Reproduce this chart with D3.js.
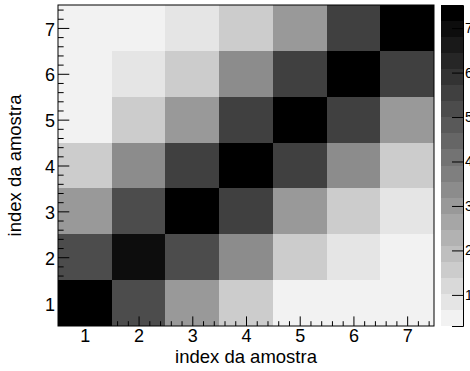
<!DOCTYPE html>
<html lang="en">
<head>
  <meta charset="UTF-8">
  <title>index da amostra</title>
  <script src="https://d3js.org/d3.v7.min.js"></script>
  <style>
    body { margin: 0; background: #fff; }
    text { font-family: "Liberation Sans", Arial, sans-serif; fill: #000; }
  </style>
</head>
<body>
  <svg id="chart" width="470" height="371"></svg>

  <script>
    // sample indices on both axes
    const xIndex = [1, 2, 3, 4, 5, 6, 7];
    const yIndex = [1, 2, 3, 4, 5, 6, 7];

    // matrix values, one row per y index (bottom row first)
    const row1 = [7.50, 5.20, 3.00, 1.55, 0.45, 0.45, 0.45];
    const row2 = [5.20, 7.00, 5.20, 3.40, 1.55, 0.85, 0.45];
    const row3 = [3.00, 5.20, 7.50, 5.50, 3.00, 1.55, 0.85];
    const row4 = [1.55, 3.40, 5.50, 7.50, 5.50, 3.40, 1.55];
    const row5 = [0.45, 1.55, 3.00, 5.50, 7.50, 5.50, 3.00];
    const row6 = [0.45, 0.85, 1.55, 3.40, 5.50, 7.50, 5.50];
    const row7 = [0.45, 0.45, 0.85, 1.55, 3.00, 5.50, 7.50];
    const rows = [row1, row2, row3, row4, row5, row6, row7];

    // colour axis
    const zRange = [0.3, 7.52];
    const zTicks = [1, 2, 3, 4, 5, 6, 7];
    const nLevels = 20;

    const titleX = 'index da amostra';
    const titleY = 'index da amostra';

    const svg = d3.select('#chart');

    const padL = 58, padR = 434, padT = 5, padB = 326;

    const x = d3.scaleLinear().domain([0.5, 7.5]).range([padL, padR]);
    const y = d3.scaleLinear().domain([0.5, 7.5]).range([padB, padT]);

    // grey palette, light to black
    const palette = d3.range(nLevels).map(k => {
      const g = Math.round(242 * (1 - k / (nLevels - 1)));
      return d3.rgb(g, g, g).toString();
    });
    const color = d3.scaleQuantize().domain(zRange).range(palette);

    // cells
    const cells = [];
    rows.forEach((r, j) => r.forEach((v, i) => cells.push({ xi: xIndex[i], yi: yIndex[j], v: v })));

    svg.append('g').selectAll('rect')
      .data(cells)
      .enter().append('rect')
      .attr('x', d => x(d.xi - 0.5))
      .attr('y', d => y(d.yi + 0.5))
      .attr('width', d => x(d.xi + 0.5) - x(d.xi - 0.5))
      .attr('height', d => y(d.yi - 0.5) - y(d.yi + 0.5))
      .attr('fill', d => color(Math.min(d.v, zRange[1] - 1e-6)))
      .attr('shape-rendering', 'crispEdges');

    // minor tick positions
    const minor = d3.range(0.6, 7.5, 0.2).filter(t => Math.abs(t - Math.round(t)) > 0.05);

    const tickLenX = 9.6, tickLenY = 11.3;

    // x axis
    svg.append('g')
      .attr('transform', `translate(0,${padB})`)
      .call(d3.axisBottom(x).tickValues(minor).tickSize(-tickLenX / 2).tickFormat(''))
      .call(g => g.select('.domain').remove());
    const gx = svg.append('g')
      .attr('transform', `translate(0,${padB})`)
      .call(d3.axisBottom(x).tickValues(xIndex).tickSize(-tickLenX).tickPadding(0).tickFormat(d3.format('d')));
    gx.select('.domain').remove();
    gx.selectAll('text').attr('y', 16).attr('dy', 0).style('font-size', '18px');

    // y axis
    svg.append('g')
      .attr('transform', `translate(${padL},0)`)
      .call(d3.axisLeft(y).tickValues(minor).tickSize(-tickLenY / 2).tickFormat(''))
      .call(g => g.select('.domain').remove());
    const gy = svg.append('g')
      .attr('transform', `translate(${padL},0)`)
      .call(d3.axisLeft(y).tickValues(yIndex).tickSize(-tickLenY).tickFormat(d3.format('d')));
    gy.select('.domain').remove();
    gy.selectAll('text').attr('x', -3).attr('dy', '0.4em').style('font-size', '18px');

    svg.selectAll('.tick line').attr('stroke', '#000');

    // frame
    svg.append('rect')
      .attr('x', padL).attr('y', padT)
      .attr('width', padR - padL).attr('height', padB - padT)
      .attr('fill', 'none').attr('stroke', '#000').attr('stroke-width', 1);

    // axis titles
    svg.append('text')
      .attr('x', (padL + padR) / 2).attr('y', 363)
      .attr('text-anchor', 'middle')
      .style('font-size', '18.5px')
      .text(titleX);

    svg.append('text')
      .attr('transform', `translate(21,${(padT + padB) / 2}) rotate(-90)`)
      .attr('text-anchor', 'middle')
      .style('font-size', '18.5px')
      .text(titleY);

    // colour bar
    const barL = 441, barR = 463;
    const z = d3.scaleLinear().domain(zRange).range([padB, padT]);
    const step = (zRange[1] - zRange[0]) / nLevels;
    svg.append('g').selectAll('rect')
      .data(palette)
      .enter().append('rect')
      .attr('x', barL)
      .attr('y', (c, k) => z(zRange[0] + (k + 1) * step))
      .attr('width', barR - barL)
      .attr('height', (c, k) => z(zRange[0] + k * step) - z(zRange[0] + (k + 1) * step))
      .attr('fill', c => c)
      .attr('shape-rendering', 'crispEdges');

    const gz = svg.append('g')
      .attr('transform', `translate(${barR},0)`)
      .call(d3.axisRight(z).tickValues(zTicks).tickSize(-11).tickPadding(3).tickFormat(d3.format('d')));
    gz.select('.domain').attr('stroke', '#000');
    gz.selectAll('text').attr('x', 2).style('font-size', '14px');
  </script>
</body>
</html>
